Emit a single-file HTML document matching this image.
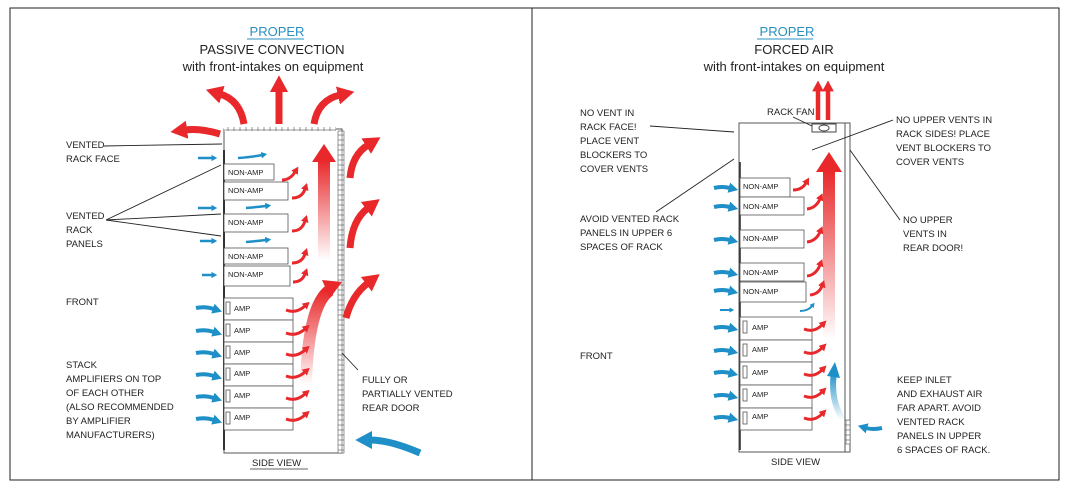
<!DOCTYPE html>
<html><head><meta charset="utf-8"><style>
html,body{margin:0;padding:0;background:#fff}
svg{display:block}
text{font-family:"Liberation Sans",sans-serif;fill:#222}
.s{font-size:9.5px}
.b{font-size:7.5px}
</style></head><body>
<svg width="1069" height="488" viewBox="0 0 1069 488" xmlns="http://www.w3.org/2000/svg">
<defs>
<marker id="rh" markerWidth="2.4" markerHeight="2.6" refX="0.3" refY="1.3" orient="auto" markerUnits="strokeWidth"><path d="M0,0 L2.4,1.3 L0,2.6z" fill="#e8282a"/></marker>
<marker id="bh" markerWidth="2.4" markerHeight="2.6" refX="0.3" refY="1.3" orient="auto" markerUnits="strokeWidth"><path d="M0,0 L2.4,1.3 L0,2.6z" fill="#1f8fc8"/></marker>
<linearGradient id="gl" x1="0" y1="1" x2="0" y2="0"><stop offset="0" stop-color="#e8282a" stop-opacity="0"/><stop offset="1" stop-color="#e8282a"/></linearGradient>
<linearGradient id="gb" x1="0" y1="1" x2="0" y2="0"><stop offset="0" stop-color="#1f8fc8" stop-opacity="0"/><stop offset="1" stop-color="#1f8fc8"/></linearGradient>
<pattern id="vent" width="6" height="5" patternUnits="userSpaceOnUse"><rect width="6" height="5" fill="#fff" stroke="#555" stroke-width="0.6"/></pattern>
</defs>
<!-- frame -->
<rect x="10" y="8" width="1049" height="472" fill="none" stroke="#222" stroke-width="1"/>
<line x1="532" y1="8" x2="532" y2="480" stroke="#222"/>

<!-- LEFT titles -->
<text x="277" y="36" text-anchor="middle" font-size="13" style="fill:#2a8fc0">PROPER</text>
<line x1="247" y1="39" x2="304" y2="39" stroke="#2a8fc0"/>
<text x="272" y="54" text-anchor="middle" font-size="13">PASSIVE CONVECTION</text>
<text x="273" y="71" text-anchor="middle" font-size="13">with front-intakes on equipment</text>

<!-- left rack -->
<rect x="224" y="129" width="118" height="324" fill="#fff" stroke="#555"/>
<rect x="224" y="127" width="112" height="4" fill="url(#vent)"/>
<rect x="338" y="131" width="6" height="322" fill="url(#vent)" stroke="#555" stroke-width="0.6"/>
<line x1="224" y1="150" x2="224" y2="450" stroke="#333" stroke-width="2"/>
<g fill="#fff" stroke="#555" stroke-width="0.8">
<rect x="224" y="164" width="50" height="16"/><rect x="224" y="182" width="64" height="18"/>
<rect x="224" y="214" width="64" height="18"/><rect x="224" y="248" width="64" height="16"/>
<rect x="224" y="266" width="66" height="20"/>
<rect x="224" y="298" width="69" height="22"/><rect x="224" y="320" width="69" height="22"/>
<rect x="224" y="342" width="69" height="22"/><rect x="224" y="364" width="69" height="22"/>
<rect x="224" y="386" width="69" height="22"/><rect x="224" y="408" width="69" height="22"/>
</g>
<g class="b">
<text x="228" y="175">NON-AMP</text><text x="228" y="193">NON-AMP</text><text x="228" y="225">NON-AMP</text>
<text x="228" y="259">NON-AMP</text><text x="228" y="277">NON-AMP</text>
<text x="234" y="311">AMP</text><text x="234" y="333">AMP</text><text x="234" y="355">AMP</text>
<text x="234" y="376">AMP</text><text x="234" y="398">AMP</text><text x="234" y="420">AMP</text>
</g>
<g fill="none" stroke="#555" stroke-width="0.8">
<rect x="226" y="302" width="4" height="12"/><rect x="226" y="324" width="4" height="12"/><rect x="226" y="346" width="4" height="12"/>
<rect x="226" y="368" width="4" height="12"/><rect x="226" y="390" width="4" height="12"/><rect x="226" y="412" width="4" height="12"/>
</g>
<!-- left gradient arrows -->
<rect x="318" y="160" width="12" height="100" fill="url(#gl)"/>
<polygon points="312,162 324,144 336,162" fill="#e8282a"/>
<path d="M306,385 Q308,305 330,290" fill="none" stroke="url(#gl)" stroke-width="12"/>
<polygon points="322,280 342,282 330,298" fill="#e8282a"/>
<!-- left red exhaust arrows -->
<g fill="none" stroke="#e8282a" stroke-width="7" marker-end="url(#rh)">
<path d="M244,124 Q240,100 220,94"/>
<path d="M279,124 L279,90"/>
<path d="M314,124 Q318,100 340,95"/>
<path d="M220,134 Q200,128 185,130"/>
<path d="M350,178 Q352,155 368,145"/>
<path d="M350,248 Q352,220 368,208"/>
<path d="M346,318 Q352,295 368,283"/>
</g>
<g fill="none" stroke="#e8282a" stroke-width="3" marker-end="url(#rh)">
<path d="M282,180 Q290,180 295,172"/><path d="M292,198 Q302,198 305,189"/>
<path d="M292,231 Q302,231 305,221"/><path d="M292,263 Q302,263 305,254"/>
<path d="M293,282 Q302,282 305,274"/>
<path d="M286,310 Q296,314 305,306"/><path d="M286,333 Q296,337 305,329"/>
<path d="M286,354 Q296,358 305,350"/><path d="M286,376 Q296,380 305,372"/>
<path d="M286,398 Q296,402 305,394"/><path d="M286,419 Q296,423 305,415"/>
</g>
<!-- left blue arrows -->
<g fill="none" stroke="#1f8fc8" stroke-width="2.5" marker-end="url(#bh)">
<path d="M198,158 L212,158"/><path d="M238,158 Q252,157 262,155"/>
<path d="M198,208 L212,208"/><path d="M246,208 Q258,207 266,206"/>
<path d="M200,241 L212,241"/><path d="M246,242 Q258,241 266,240"/>
<path d="M202,275 L212,275"/>
</g>
<g fill="none" stroke="#1f8fc8" stroke-width="4" marker-end="url(#bh)">
<path d="M196,308 Q205,306 214,309"/><path d="M196,331 Q205,329 214,332"/>
<path d="M196,353 Q205,351 214,354"/><path d="M196,375 Q205,373 214,376"/>
<path d="M196,397 Q205,395 214,398"/><path d="M196,419 Q205,417 214,420"/>
</g>
<path d="M420,453 Q390,440 370,440" fill="none" stroke="#1f8fc8" stroke-width="7" marker-end="url(#bh)"/>
<!-- left labels -->
<g class="s">
<text x="66" y="148">VENTED</text><text x="66" y="162">RACK FACE</text>
<text x="66" y="219">VENTED</text><text x="66" y="233">RACK</text><text x="66" y="247">PANELS</text>
<text x="66" y="305">FRONT</text>
<text x="66" y="368">STACK</text><text x="66" y="382">AMPLIFIERS ON TOP</text><text x="66" y="396">OF EACH OTHER</text>
<text x="66" y="410">(ALSO RECOMMENDED</text><text x="66" y="424">BY AMPLIFIER</text><text x="66" y="438">MANUFACTURERS)</text>
<text x="362" y="383">FULLY OR</text><text x="362" y="397">PARTIALLY VENTED</text><text x="362" y="411">REAR DOOR</text>
<text x="252" y="466">SIDE VIEW</text>
</g>
<line x1="250" y1="469" x2="308" y2="469" stroke="#333" stroke-width="0.8"/>
<g stroke="#222" stroke-width="0.9">
<line x1="104" y1="146" x2="222" y2="144"/><line x1="106" y1="220" x2="221" y2="165"/>
<line x1="106" y1="220" x2="221" y2="214"/><line x1="106" y1="220" x2="221" y2="236"/>
<line x1="358" y1="370" x2="342" y2="353"/>
</g>

<!-- RIGHT titles -->
<text x="787" y="36" text-anchor="middle" font-size="13" style="fill:#2a8fc0">PROPER</text>
<line x1="757" y1="39" x2="813" y2="39" stroke="#2a8fc0"/>
<text x="794" y="54" text-anchor="middle" font-size="13">FORCED AIR</text>
<text x="794" y="71" text-anchor="middle" font-size="13">with front-intakes on equipment</text>

<!-- right rack -->
<rect x="739" y="123" width="111" height="329" fill="#fff" stroke="#555"/>
<line x1="845" y1="123" x2="845" y2="452" stroke="#555"/>
<rect x="845" y="420" width="5" height="24" fill="url(#vent)" stroke="#555" stroke-width="0.6"/>
<line x1="740" y1="162" x2="740" y2="450" stroke="#333" stroke-width="1.6"/>
<rect x="812" y="124" width="24" height="8" fill="#fff" stroke="#444"/>
<ellipse cx="824" cy="128" rx="5" ry="3" fill="none" stroke="#444"/>
<g fill="#fff" stroke="#555" stroke-width="0.8">
<rect x="740" y="178" width="50" height="19"/><rect x="740" y="197" width="64" height="18"/>
<rect x="740" y="230" width="64" height="18"/><rect x="740" y="263" width="64" height="18"/>
<rect x="740" y="282" width="66" height="20"/>
<rect x="740" y="317" width="72" height="23"/><rect x="740" y="340" width="72" height="22"/>
<rect x="740" y="362" width="72" height="23"/><rect x="740" y="385" width="72" height="23"/>
<rect x="740" y="408" width="72" height="22"/>
</g>
<g class="b">
<text x="743" y="189">NON-AMP</text><text x="743" y="209">NON-AMP</text><text x="743" y="241">NON-AMP</text>
<text x="743" y="275">NON-AMP</text><text x="743" y="294">NON-AMP</text>
<text x="752" y="330">AMP</text><text x="752" y="352">AMP</text><text x="752" y="375">AMP</text>
<text x="752" y="397">AMP</text><text x="752" y="419">AMP</text>
</g>
<g fill="none" stroke="#555" stroke-width="0.8">
<rect x="743" y="321" width="4" height="12"/><rect x="743" y="344" width="4" height="12"/><rect x="743" y="366" width="4" height="12"/>
<rect x="743" y="389" width="4" height="12"/><rect x="743" y="412" width="4" height="12"/>
</g>
<rect x="823" y="170" width="12" height="170" fill="url(#gl)"/>
<polygon points="816,172 829,152 842,172" fill="#e8282a"/>
<path d="M843,420 Q830,400 834,372" fill="none" stroke="url(#gb)" stroke-width="6"/>
<polygon points="827,376 835,362 840,378" fill="#1f8fc8"/>
<g fill="none" stroke="#e8282a" stroke-width="4.5" marker-end="url(#rh)">
<path d="M818,120 L818,90"/><path d="M828,120 L828,90"/>
</g>
<g fill="none" stroke="#e8282a" stroke-width="3" marker-end="url(#rh)">
<path d="M793,190 Q802,190 806,183"/><path d="M807,209 Q816,208 820,199"/>
<path d="M807,242 Q816,241 820,232"/><path d="M807,276 Q816,275 820,265"/>
<path d="M810,295 Q819,294 822,286"/>
<path d="M804,329 Q814,333 822,325"/><path d="M804,352 Q814,356 822,348"/>
<path d="M804,374 Q814,378 822,370"/><path d="M804,396 Q814,400 822,392"/>
<path d="M804,418 Q814,422 822,414"/>
</g>
<path d="M800,311 Q808,311 812,306" fill="none" stroke="#1f8fc8" stroke-width="2" marker-end="url(#bh)"/>
<g fill="none" stroke="#1f8fc8" stroke-width="4" marker-end="url(#bh)">
<path d="M714,188 Q722,186 730,188"/><path d="M714,207 Q722,205 730,207"/>
<path d="M714,240 Q722,238 730,240"/><path d="M714,273 Q722,271 730,273"/>
<path d="M714,291 Q722,289 730,291"/>
<path d="M714,328 Q722,326 730,328"/><path d="M714,351 Q722,349 730,351"/>
<path d="M714,373 Q722,371 730,373"/><path d="M714,396 Q722,394 730,396"/>
<path d="M714,418 Q722,416 730,418"/>
<path d="M882,428 Q873,430 866,428"/>
</g>
<path d="M720,310 L730,310" fill="none" stroke="#1f8fc8" stroke-width="2" marker-end="url(#bh)"/>
<g class="s">
<text x="580" y="116">NO VENT IN</text><text x="580" y="130">RACK FACE!</text><text x="580" y="144">PLACE VENT</text>
<text x="580" y="158">BLOCKERS TO</text><text x="580" y="172">COVER VENTS</text>
<text x="580" y="222">AVOID VENTED RACK</text><text x="580" y="236">PANELS IN UPPER 6</text><text x="580" y="250">SPACES OF RACK</text>
<text x="580" y="359">FRONT</text>
<text x="767" y="115">RACK FAN</text>
<text x="896" y="123">NO UPPER VENTS IN</text><text x="896" y="137">RACK  SIDES!  PLACE</text>
<text x="896" y="151">VENT BLOCKERS TO</text><text x="896" y="165">COVER VENTS</text>
<text x="903" y="223">NO UPPER</text><text x="903" y="237">VENTS IN</text><text x="903" y="251">REAR DOOR!</text>
<text x="897" y="383">KEEP INLET</text><text x="897" y="397">AND EXHAUST AIR</text><text x="897" y="411">FAR APART. AVOID</text>
<text x="897" y="425">VENTED RACK</text><text x="897" y="439">PANELS IN UPPER</text><text x="897" y="453">6  SPACES OF RACK.</text>
<text x="771" y="465">SIDE VIEW</text>
</g>
<g stroke="#222" stroke-width="0.9">
<line x1="650" y1="126" x2="734" y2="132"/><line x1="656" y1="212" x2="734" y2="159"/>
<line x1="793" y1="117" x2="812" y2="126"/><line x1="893" y1="120" x2="812" y2="150"/>
<line x1="900" y1="220" x2="850" y2="150"/>
</g>
</svg>
</body></html>
